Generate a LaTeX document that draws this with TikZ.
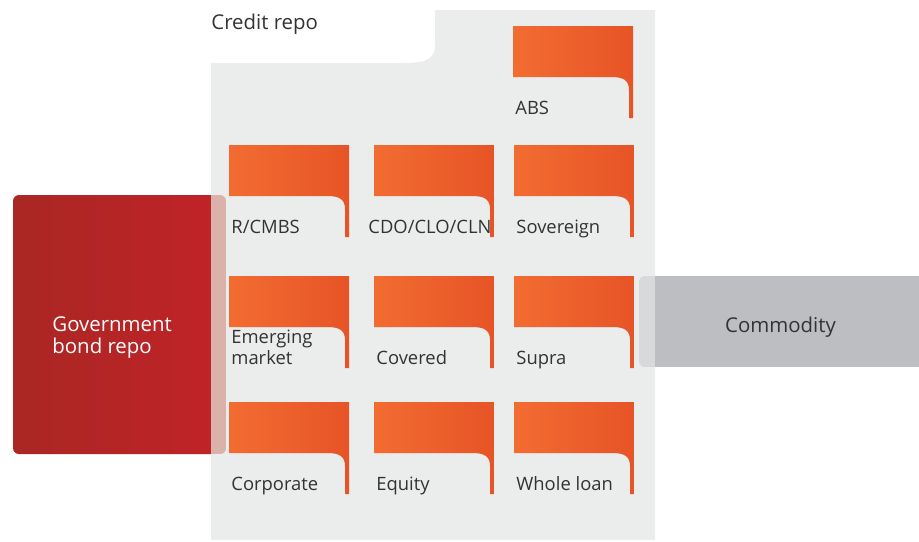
\documentclass[tikz,border=0pt]{standalone}
\usepackage{fontspec}
\setmainfont{Open Sans}
\usepackage{tikz}
\usetikzlibrary{calc,positioning}
\definecolor{panelgray}{HTML}{EBECEC}
\definecolor{flagleft}{HTML}{F26C31}
\definecolor{flagright}{HTML}{E75427}
\definecolor{govleft}{HTML}{A92724}
\definecolor{govright}{HTML}{C02328}
\definecolor{govfade}{HTML}{DAB2A9}
\definecolor{comgray}{HTML}{BDBEC1}
\definecolor{comfade}{HTML}{D8D9DB}
\definecolor{labeltext}{HTML}{333333}
\tikzset{flag/.style={left color=flagleft,right color=flagright},
tilelabel/.style={inner sep=0pt,text=labeltext,align=left,
font=\fontsize{9.2}{10.5}\selectfont},
biglabel/.style={inner sep=0pt,align=left,
font=\fontsize{10.2}{10.8}\selectfont}}
% #1 label shift, #2 name, #3 x, #4 y, #5 label
\newcommand{\flagtile}[5][2]{
\shade[flag] (#3,#4) -- ++(120,0) -- ++(0,92) -- ++(-4,0) -- ++(0,-28)
 .. controls ($(#3,#4)+(116,54)$) and ($(#3,#4)+(110,51)$) .. ($(#3,#4)+(98,51)$)
 -- ($(#3,#4)+(0,51)$) -- cycle;
\node[tilelabel,anchor=base west] (#2) at ($(#3,#4)+(#1,88)$) {#5};
}

\begin{document}
\begin{tikzpicture}[x=0.5pt,y=-0.5pt]
		\useasboundingbox (0,0) rectangle (919,541);
		% credit repo panel
		\fill[panelgray] (211,63) -- (211,540) -- (655,540) -- (655,10) -- (435,10)
		-- (435,45) .. controls (435,59) and (426,63) .. (405,63) -- cycle;
		\node[biglabel,text=labeltext,anchor=base west] (credit) at (211,29) {Credit repo};
		\flagtile{abs}{513}{26}{ABS}
		\flagtile{rcmbs}{229}{145}{R/CMBS}
		\flagtile[-6]{cdo}{374}{145}{CDO/CLO/CLN}
		\flagtile{sov}{514}{145}{Sovereign}
		\flagtile{emerging}{229}{276}{Emerging\\market}
		\flagtile{covered}{374}{276}{Covered}
		\flagtile{supra}{514}{276}{Supra}
		\flagtile{corp}{229}{402}{Corporate}
		\flagtile{equity}{374}{402}{Equity}
		\flagtile{whole}{514}{402}{Whole loan}
		% government bond repo
		\begin{scope}
			\clip[rounded corners=3pt] (13,195) rectangle (226,454);
			\shade[left color=govleft,right color=govright] (13,195) rectangle (211,454);
			\fill[govfade] (211,195) rectangle (226,454);
		\end{scope}
		\node[biglabel,text=white,anchor=base west] (gov) at (52,353.3) {Government\\bond repo};
		% commodity
		\begin{scope}
			\clip[rounded corners=3pt] (639,276) rectangle (940,367);
			\fill[comfade] (639,276) rectangle (655,367);
			\fill[comgray] (655,276) rectangle (940,367);
		\end{scope}
		\node[biglabel,text=labeltext,anchor=base] (com) at (780.5,332) {Commodity};
	\end{tikzpicture}
\end{document}
